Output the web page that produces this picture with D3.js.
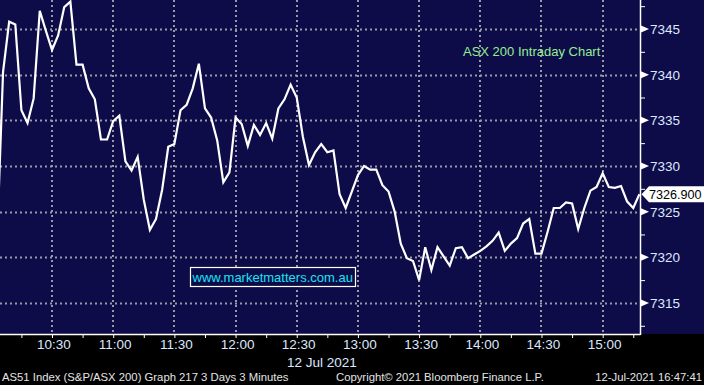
<!DOCTYPE html>
<html>
<head>
<meta charset="utf-8">
<script src="https://cdn.jsdelivr.net/npm/d3@7"></script>
<style>
  html, body { margin: 0; padding: 0; background: #000; }
  svg { display: block; }
</style>
</head>
<body>
<svg id="chart" width="704" height="385"></svg>
<script>
// ---- Data (3-minute bars, 12 Jul 2021) ----
const times = [
  "10:03","10:06","10:09","10:12","10:15","10:18","10:21","10:24","10:27",
  "10:30","10:33","10:36","10:39","10:42","10:45","10:48","10:51","10:54","10:57",
  "11:00","11:03","11:06","11:09","11:12","11:15","11:18","11:21","11:24","11:27",
  "11:30","11:33","11:36","11:39","11:42","11:45","11:48","11:51","11:54","11:57",
  "12:00","12:03","12:06","12:09","12:12","12:15","12:18","12:21","12:24","12:27",
  "12:30","12:33","12:36","12:39","12:42","12:45","12:48","12:51","12:54","12:57",
  "13:00","13:03","13:06","13:09","13:12","13:15","13:18","13:21","13:24","13:27",
  "13:30","13:33","13:36","13:39","13:42","13:45","13:48","13:51","13:54","13:57",
  "14:00","14:03","14:06","14:09","14:12","14:15","14:18","14:21","14:24","14:27",
  "14:30","14:33","14:36","14:39","14:42","14:45","14:48","14:51","14:54","14:57",
  "15:00","15:03","15:06","15:09","15:12","15:15","15:18"
];
const values = [
  7321.6,7340.3,7345.8,7345.5,7336.1,7334.7,7337.4,7347.0,7344.8,
  7342.7,7344.3,7347.4,7348.0,7341.1,7341.1,7338.5,7337.3,7332.9,7332.9,
  7334.9,7335.5,7330.5,7329.5,7331.0,7326.3,7323.0,7324.2,7327.4,7332.1,
  7332.4,7336.1,7336.7,7338.5,7341.2,7336.3,7335.3,7332.8,7328.2,7329.3,
  7335.3,7334.6,7332.2,7334.5,7333.4,7334.7,7333.0,7336.3,7337.3,7338.9,
  7337.5,7333.2,7330.1,7331.5,7332.4,7331.5,7331.7,7326.9,7325.4,7327.2,
  7329.0,7330.0,7329.6,7329.6,7327.9,7327.2,7325.0,7321.5,7319.9,7319.6,
  7317.5,7321.1,7318.6,7321.1,7320.1,7319.1,7321.0,7321.1,7319.9,7320.3,
  7320.7,7321.2,7321.8,7322.7,7320.7,7321.5,7322.1,7323.7,7324.2,7320.4,
  7320.4,7322.8,7325.4,7325.4,7326.0,7325.9,7323.1,7325.4,7327.3,7327.7,
  7329.2,7327.7,7327.6,7327.8,7326.1,7325.4,7326.9
];
const xTickLabels = ["10:30","11:00","11:30","12:00","12:30","13:00","13:30","14:00","14:30","15:00"];
const yTickLabels = [7315, 7320, 7325, 7330, 7335, 7340, 7345];
const yMinorTicks = [7312.5,7315,7317.5,7320,7322.5,7325,7327.5,7330,7332.5,7335,7337.5,7340,7342.5,7345,7347.5];
const lastValueLabel = "7326.900";
const dateLabel = "12 Jul 2021";
const titleText = "ASX 200 Intraday Chart";
const urlText = "www.marketmatters.com.au";
const footerLeft = "AS51 Index (S&P/ASX 200) Graph 217 3 Days 3 Minutes";
const footerMid = "Copyright\u00A9 2021 Bloomberg Finance L.P.";
const footerRight = "12-Jul-2021 16:47:41";

// ---- Layout ----
const W = 704, H = 385;
const plotW = 640, plotH = 334;
const NAVY = "#0e0c48";
const GRID = "#9a9aa6";
const LABEL = "#dde7ff";
const FONT = "'Liberation Sans', Arial, sans-serif";

const parse = d3.timeParse("%Y-%m-%d %H:%M:%S");
const toDate = s => parse("2021-07-12 " + (s.length === 5 ? s + ":00" : s));

const x = d3.scaleTime()
  .domain([toDate("10:04:30"), toDate("15:18:18")])
  .range([0, plotW]);
const y = d3.scaleLinear()
  .domain([7311.6, 7348.175])
  .range([plotH, 0]);

const data = times.map((t, i) => ({ t: toDate(t), v: values[i] }));

const svg = d3.select("#chart");

// backgrounds
svg.append("rect").attr("x", 0).attr("y", 0).attr("width", W).attr("height", H).attr("fill", "#000");
svg.append("rect").attr("x", 0).attr("y", 0).attr("width", W).attr("height", plotH).attr("fill", NAVY);

svg.append("defs").append("clipPath").attr("id", "plotclip")
  .append("rect").attr("x", 0).attr("y", 0).attr("width", plotW).attr("height", plotH);

// gridlines
const grid = svg.append("g");
grid.selectAll("line.h").data(yTickLabels).join("line")
  .attr("x1", 0).attr("x2", plotW)
  .attr("y1", d => Math.round(y(d)) + 0.5).attr("y2", d => Math.round(y(d)) + 0.5)
  .attr("stroke", GRID).attr("stroke-width", 2).attr("stroke-dasharray", "2,3");
grid.selectAll("line.v").data(xTickLabels).join("line")
  .attr("x1", d => Math.round(x(toDate(d)))).attr("x2", d => Math.round(x(toDate(d))))
  .attr("y1", 0).attr("y2", plotH)
  .attr("stroke", GRID).attr("stroke-width", 2).attr("stroke-dasharray", "2,3");

// price line
const line = d3.line().x(d => x(d.t)).y(d => y(d.v));
svg.append("path").datum(data)
  .attr("clip-path", "url(#plotclip)")
  .attr("d", line)
  .attr("fill", "none").attr("stroke", "#ffffff").attr("stroke-width", 2.2)
  .attr("stroke-linejoin", "miter");

// bottom axis (ticks every 15 minutes)
const xAxis = d3.axisBottom(x)
  .ticks(d3.timeMinute.every(15))
  .tickSize(4)
  .tickFormat("");
const gx = svg.append("g").attr("transform", `translate(0,${plotH})`).call(xAxis);
gx.select(".domain").remove();
gx.selectAll(".tick line").attr("stroke", "#fff");
gx.append("line").attr("x1", 0).attr("x2", plotW + 0.5).attr("y1", 0.5).attr("y2", 0.5)
  .attr("stroke", "#fff").attr("stroke-width", 1.5);

svg.append("g").selectAll("text").data(xTickLabels).join("text")
  .attr("x", d => x(toDate(d)) + 2)
  .attr("y", 349)
  .attr("text-anchor", "middle")
  .attr("font-family", FONT).attr("font-size", 13.5)
  .attr("fill", LABEL)
  .text(d => d);

svg.append("text")
  .attr("x", 287).attr("y", 366.5)
  .attr("font-family", FONT).attr("font-size", 13.5)
  .attr("fill", LABEL).text(dateLabel);

// right axis
const yAxis = d3.axisRight(y).tickValues(yMinorTicks).tickSize(5).tickFormat("");
const gy = svg.append("g").attr("transform", `translate(${plotW},0)`).call(yAxis);
gy.select(".domain").remove();
gy.selectAll(".tick line").attr("stroke", "#fff");
gy.append("line").attr("x1", 0.5).attr("x2", 0.5).attr("y1", 0).attr("y2", plotH + 1)
  .attr("stroke", "#fff").attr("stroke-width", 1.5);

const yl = svg.append("g");
yl.selectAll("path").data(yTickLabels).join("path")
  .attr("d", d => {
    const yy = y(d);
    return `M${plotW + 1},${yy - 3.5} L${plotW + 9},${yy} L${plotW + 1},${yy + 3.5} Z`;
  })
  .attr("fill", "#fff");
yl.selectAll("text").data(yTickLabels).join("text")
  .attr("x", 650)
  .attr("y", d => y(d) + 5)
  .attr("font-family", FONT).attr("font-size", 13.5)
  .attr("fill", LABEL)
  .text(d => d);

// last value tag
const lastV = values[values.length - 1];
const ly = y(lastV);
svg.append("path")
  .attr("d", `M${plotW + 1.5},${ly} L${plotW + 9},${ly - 8} L${W},${ly - 8} L${W},${ly + 8} L${plotW + 9},${ly + 8} Z`)
  .attr("fill", "#fff");
svg.append("text")
  .attr("x", 649).attr("y", ly + 4.8)
  .attr("font-family", FONT).attr("font-size", 12.6)
  .attr("fill", "#000").text(lastValueLabel);

// annotations
svg.append("text")
  .attr("x", 463).attr("y", 55.5)
  .attr("font-family", FONT).attr("font-size", 13)
  .attr("fill", "#92ee92").text(titleText);

svg.append("rect")
  .attr("x", 190.5).attr("y", 267.5).attr("width", 165).attr("height", 19)
  .attr("fill", NAVY).attr("stroke", "#fff").attr("stroke-width", 1.2);
svg.append("text")
  .attr("x", 192.5).attr("y", 282)
  .attr("font-family", FONT).attr("font-size", 13)
  .attr("fill", "#19e3f5").text(urlText);

// footer
const footer = svg.append("g")
  .attr("font-family", FONT).attr("font-size", 11.3).attr("fill", "#e4e4e4");
footer.append("text").attr("x", 2).attr("y", 381).text(footerLeft);
footer.append("text").attr("x", 336).attr("y", 381).text(footerMid);
footer.append("text").attr("x", 702).attr("y", 381).attr("text-anchor", "end").text(footerRight);
</script>
</body>
</html>
